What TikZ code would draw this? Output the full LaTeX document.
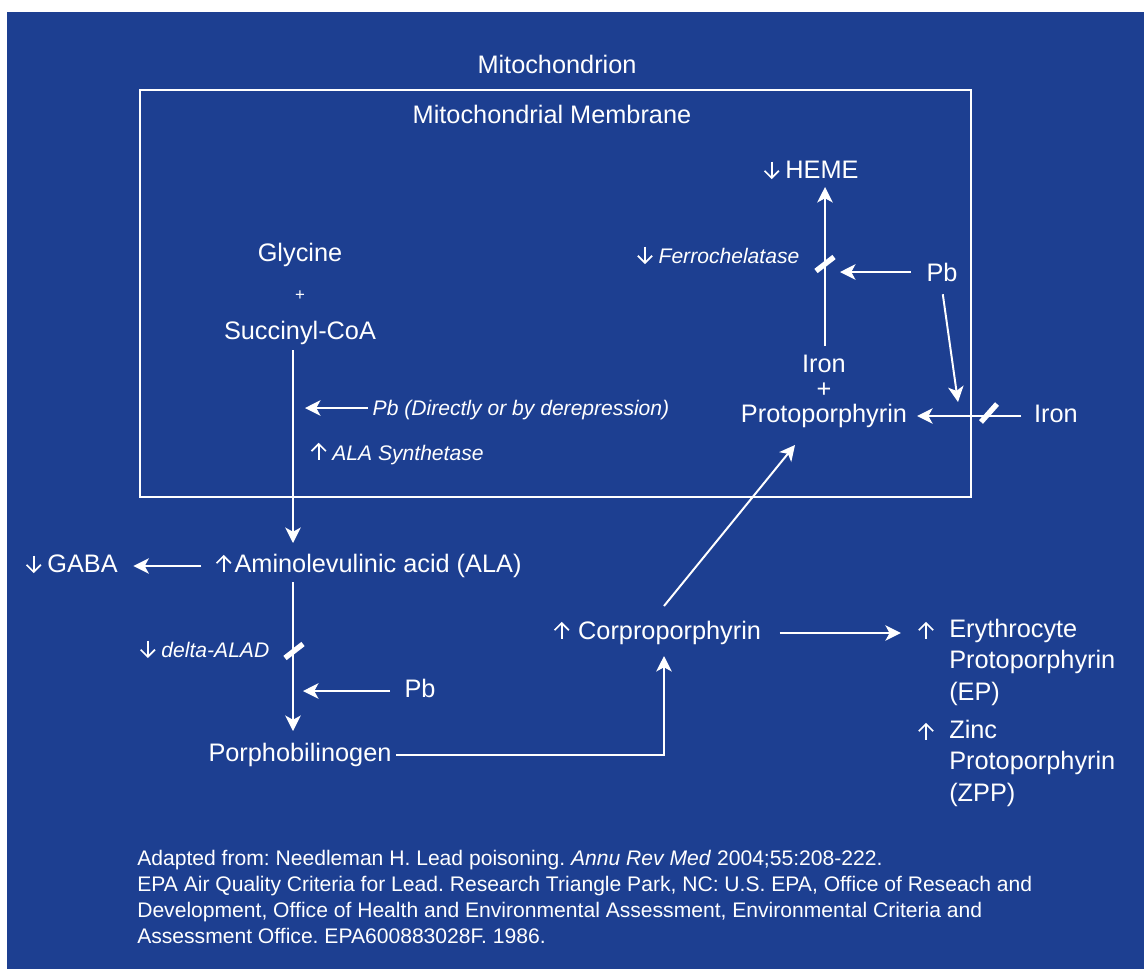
\documentclass[tikz,border=0pt]{standalone}
\usepackage{fontspec}
\setmainfont{Liberation Sans}
\usetikzlibrary{calc, arrows.meta}
\definecolor{mitoblue}{RGB}{29,63,145}
\newcommand{\upar}{\tikz[baseline=0pt, line width=1.2pt]{\draw[white] (5.5pt,0.3pt) -- (5.5pt,11.6pt); \draw[white] (0.4pt,6.5pt) -- (5.5pt,11.6pt) -- (10.6pt,6.5pt);}}
\newcommand{\dnar}{\tikz[baseline=0pt, line width=1.2pt]{\draw[white] (5.5pt,11.8pt) -- (5.5pt,0.5pt); \draw[white] (0.4pt,5.4pt) -- (5.5pt,0.3pt) -- (10.6pt,5.4pt);}}
\frenchspacing

\begin{document}
\begin{tikzpicture}[x=0.025cm, y=-0.025cm]
\tikzstyle{lab}=[text=white, font=\fontsize{18}{22}\selectfont, text height=13pt, text depth=4pt, inner sep=1pt]
\tikzstyle{enz}=[text=white, font=\fontsize{15}{18}\selectfont, text height=11pt, text depth=3.5pt, inner sep=1pt]
\tikzstyle{block}=[text=white, font=\fontsize{18}{22.3}\selectfont, align=left, anchor=north west, inner sep=0pt]
\tikzstyle{flow}=[white, line width=1.4pt, -{Stealth[length=11pt,width=11pt,inset=3pt]}]
\tikzstyle{stop}=[white, line width=3.8pt]
\useasboundingbox (0,0) rectangle (1144,969);
\fill[mitoblue] (7,12) rectangle (1144,969);
\draw[white, line width=1.2pt] (140,90) rectangle (971,497);
\node[lab] (M_out) at (557,67) {Mitochondrion};
\node[lab] (M_in) at (552,117) {Mitochondrial Membrane};
\node[lab, anchor=west] (H_0) at (762,172) {\dnar\hspace{4pt}HEME};
\node[enz, anchor=east] (E_fc) at (801,258) {\dnar\hspace{4pt}\textit{Ferrochelatase}};
\node[lab] (Pb_1) at (942,275) {Pb};
\node[lab] (P_iron) at (824,366) {Iron};
\node[lab] (P_plus) at (824,391) {+};
\node[lab] (P_0) at (824,416) {Protoporphyrin};
\node[lab] (Fe_0) at (1056,416) {Iron};
\node[lab] (G_0) at (300,255) {Glycine};
\node[lab, font=\fontsize{12}{14}\selectfont] (G_plus) at (300,294) {+};
\node[lab] (S_0) at (300,333) {Succinyl-CoA};
\node[enz, anchor=west] (Pb_0) at (371,410) {\textit{Pb (Directly or by derepression)}};
\node[enz, anchor=west] (E_as) at (309,455) {\upar\hspace{4pt}\textit{ALA Synthetase}};
\node[lab, anchor=west] (A_0) at (214,566) {\upar\hspace{2pt}Aminolevulinic acid (ALA)};
\node[lab, anchor=west] (B_0) at (24,566) {\dnar\hspace{4pt}GABA};
\node[enz, anchor=east] (E_ad) at (271,652) {\dnar\hspace{4pt}\textit{delta-ALAD}};
\node[lab] (Pb_2) at (420,691) {Pb};
\node[lab] (PBG_0) at (300,755) {Porphobilinogen};
\node[lab, anchor=west] (C_0) at (552,633) {\upar\hspace{6pt}Corproporphyrin};
\node[lab] (EP_up) at (926,633) {\upar};
\node[block] (EP_0) at (949,619) {Erythrocyte\\Protoporphyrin\\(EP)};
\node[lab] (Z_up) at (926,734) {\upar};
\node[block] (Z_0) at (949,720) {Zinc\\Protoporphyrin\\(ZPP)};
\node[block, font=\fontsize{15}{18.5}\selectfont] (ref) at (137,850) {Adapted from: Needleman H. Lead poisoning. \textit{Annu Rev Med} 2004;55:208-222.\\
EPA Air Quality Criteria for Lead. Research Triangle Park, NC: U.S. EPA, Office of Reseach and\\
Development, Office of Health and Environmental Assessment, Environmental Criteria and\\
Assessment Office. EPA600883028F. 1986.};
\coordinate (heme_in) at (825,187);
\coordinate (fc_bar) at (825,264);
\coordinate (fc_hit) at (840,272);
\coordinate (P_in) at (958,402);
\coordinate (fe_bar) at (989,413);
\coordinate (stem) at (293,350);
\coordinate (A_in) at (293,543);
\coordinate (as_hit) at (305,408);
\coordinate (ad_bar) at (294,651);
\coordinate (ad_hit) at (303,688);
\coordinate (PBG_in) at (293,731);
\coordinate (C_in) at (664,656);
\coordinate (P_low) at (795,445);
\draw[flow] (heme_in |- 0,346) -- (heme_in);
\draw[stop] ($(fc_bar)+(-9,7)$) -- ($(fc_bar)+(9,-7)$);
\draw[flow, shorten <=10pt] (Pb_1.west |- fc_hit) -- (fc_hit);
\draw[flow, shorten <=4pt] (Pb_1.south) -- (P_in);
\draw[flow, shorten <=8pt, shorten >=6pt] (Fe_0.west) -- (P_0.east);
\draw[stop] ($(fe_bar)+(-8,9)$) -- ($(fe_bar)+(8,-9)$);
\draw[flow] (stem) -- (A_in);
\draw[flow, shorten <=2pt] (Pb_0.west |- as_hit) -- (as_hit);
\draw[flow, shorten <=9pt, shorten >=10pt] (A_0.west) -- (B_0.east);
\draw[flow] (stem |- 0,582) -- (PBG_in);
\draw[stop] ($(ad_bar)+(-9,7)$) -- ($(ad_bar)+(9,-7)$);
\draw[flow, shorten <=9pt] (Pb_2.west) -- (ad_hit |- Pb_2.west);
\draw[flow, shorten <=2pt] (PBG_0.east) -| (C_in);
\draw[flow] (C_in |- 0,606) -- (P_low);
\draw[flow, shorten <=12pt, shorten >=11pt] (C_0.east) -- (EP_up.west);
\end{tikzpicture}
\end{document}
